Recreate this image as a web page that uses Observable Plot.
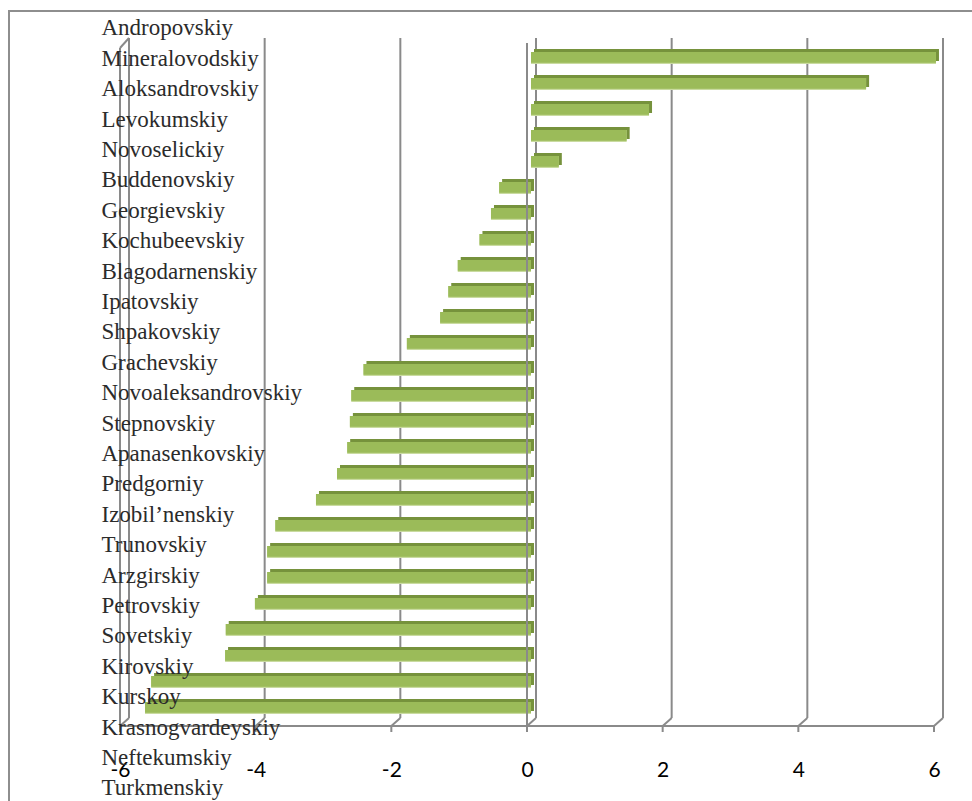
<!DOCTYPE html>
<html><head><meta charset="utf-8">
<script src="https://cdn.jsdelivr.net/npm/d3@7"></script>
<script src="https://cdn.jsdelivr.net/npm/@observablehq/plot@0.6"></script>
<style>
html,body{margin:0;padding:0;background:#fff;}
#wrap{position:relative;width:972px;height:801px;overflow:hidden;background:#fff;}
#border{position:absolute;left:8px;top:10px;width:990px;height:820px;border-left:2px solid #8e8e8e;border-top:2px solid #8e8e8e;}
#chart,#labels{position:absolute;left:0;top:0;line-height:0;}
svg{display:block;}
</style></head><body>
<div id="wrap"><div id="border"></div><div id="chart"></div><div id="labels"></div></div>
<script>
// Districts, top to bottom
const districts = [
  "Andropovskiy","Mineralovodskiy","Aloksandrovskiy","Levokumskiy","Novoselickiy",
  "Buddenovskiy","Georgievskiy","Kochubeevskiy","Blagodarnenskiy","Ipatovskiy",
  "Shpakovskiy","Grachevskiy","Novoaleksandrovskiy","Stepnovskiy","Apanasenkovskiy",
  "Predgorniy","Izobil’nenskiy","Trunovskiy","Arzgirskiy","Petrovskiy",
  "Sovetskiy","Kirovskiy","Kurskoy","Krasnogvardeyskiy","Neftekumskiy","Turkmenskiy"
];
// Bar values, same order
const values = [
  5.97, 4.94, 1.74, 1.41, 0.41,
  -0.47, -0.59, -0.76, -1.08, -1.22,
  -1.34, -1.83, -2.47, -2.65, -2.67,
  -2.71, -2.86, -3.17, -3.77, -3.89,
  -3.89, -4.07, -4.50, -4.51, -5.60, -5.69
];
const xTicks = [-6, -4, -2, 0, 2, 4, 6];

const data = districts.map((name, i) => ({name, value: values[i]}));
const labelRows = districts.map((name, i) => ({name, row: i}));

const GRID = "#8a8a8a";
const DX = 9, DY = 8;

// 3D back wall / floor decoration drawn from the x scale
function wallMark(index, scales, vals, dims) {
  const x = scales.x;
  const top = dims.marginTop, bottom = dims.height - dims.marginBottom;
  const g = d3.create("svg:g").attr("fill", "none").attr("stroke", GRID).attr("stroke-width", 2);
  for (const t of xTicks) {
    const xf = x(t);
    g.append("line").attr("x1", xf + DX).attr("x2", xf + DX).attr("y1", top - 5).attr("y2", bottom - DY);
    g.append("line").attr("x1", xf).attr("y1", bottom).attr("x2", xf + DX).attr("y2", bottom - DY);
    g.append("line").attr("x1", xf).attr("x2", xf).attr("y1", bottom).attr("y2", bottom + 6);
  }
  const x0 = x(xTicks[0]), x1 = x(xTicks[xTicks.length - 1]);
  g.append("line").attr("x1", x0).attr("x2", x1).attr("y1", bottom).attr("y2", bottom);
  g.append("line").attr("x1", x0).attr("x2", x0).attr("y1", top + 5).attr("y2", bottom);
  g.append("line").attr("x1", x0).attr("y1", top + 5).attr("x2", x0 + DX).attr("y2", top - 5);
  return g.node();
}
function zeroAxis(index, scales, vals, dims) {
  const x = scales.x;
  const top = dims.marginTop, bottom = dims.height - dims.marginBottom;
  const g = d3.create("svg:g").attr("stroke", GRID).attr("stroke-width", 2);
  g.append("line").attr("x1", x(0)).attr("x2", x(0)).attr("y1", top).attr("y2", bottom);
  return g.node();
}

const chart = Plot.plot({
  width: 972, height: 801,
  marginLeft: 120, marginRight: 38, marginTop: 43, marginBottom: 75,
  style: {fontFamily: "Lato, 'Open Sans', sans-serif", fontSize: "21px", color: "#000", background: "transparent", overflow: "visible"},
  x: {domain: [-6, 6], ticks: xTicks, tickFormat: d => String(d), tickSize: 0, tickPadding: 36, label: null},
  y: {domain: districts, axis: null, paddingInner: 0.54, paddingOuter: 0.27},
  marks: [
    wallMark,
    Plot.barX(data, {y: "name", x: "value", fill: "#76923C", dx: 7, dy: -5}),
    Plot.barX(data, {y: "name", x: "value", fill: "#C9DBA0", dx: 4, dy: -2}),
    Plot.barX(data, {y: "name", x: "value", fill: "#9BBB59", dx: 4, dy: -2, insetBottom: 1.2}),
    zeroAxis
  ]
});
document.getElementById("chart").appendChild(chart);

const labels = Plot.plot({
  width: 972, height: 801,
  marginTop: 27.6, marginBottom: 13.4, marginLeft: 101, marginRight: 0,
  style: {background: "transparent", fontFamily: "'Liberation Serif', 'Times New Roman', serif", overflow: "visible"},
  y: {domain: [0, districts.length - 1], reverse: true, axis: null},
  marks: [
    Plot.text(labelRows, {y: "row", text: "name", frameAnchor: "left", textAnchor: "start", fill: "#2b2b2b", fontSize: 23})
  ]
});
document.getElementById("labels").appendChild(labels);
</script>
</body></html>
